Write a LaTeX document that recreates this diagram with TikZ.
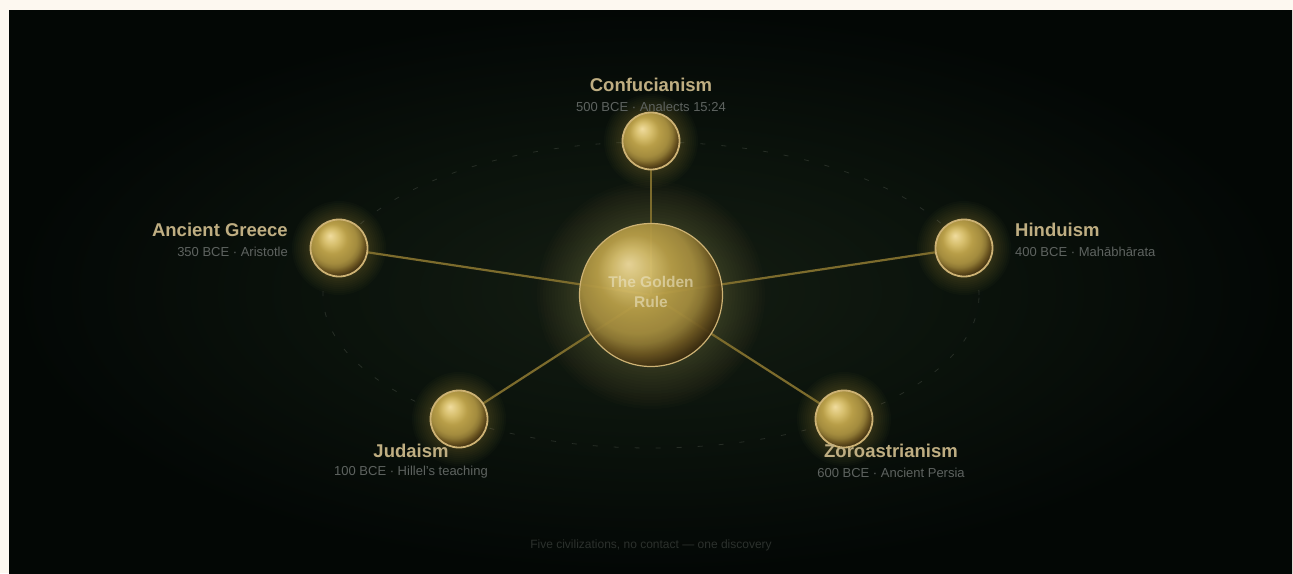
\documentclass[tikz,border=0pt]{standalone}
\usepackage{fontspec}
\setmainfont{Liberation Sans}
\usetikzlibrary{positioning}

\definecolor{paper}{HTML}{FDF8F0}
\definecolor{bgin}{HTML}{141D12}
\definecolor{bgmid}{HTML}{0B130C}
\definecolor{bgout}{HTML}{030705}
\definecolor{goldhi}{HTML}{F0DC9E}
\definecolor{goldlite}{HTML}{D6BE6C}
\definecolor{goldmid}{HTML}{B89E48}
\definecolor{goldside}{HTML}{A48C3E}
\definecolor{goldshade}{HTML}{8E7834}
\definecolor{goldlow}{HTML}{6A5420}
\definecolor{golddark}{HTML}{3E2E10}
\definecolor{golddeep}{HTML}{2A1F08}
\definecolor{goldring}{HTML}{CDB274}
\definecolor{glowgold}{HTML}{D8C060}
\definecolor{spokegold}{HTML}{7C6B2C}
\definecolor{orbitgrey}{HTML}{272E26}
\definecolor{titlegold}{HTML}{BFAE82}
\definecolor{subgrey}{HTML}{5E6360}
\definecolor{footgrey}{HTML}{2C312D}
\definecolor{corecream}{HTML}{ECE4C4}

\pgfdeclareradialshading{goldball}{\pgfpoint{-8bp}{11bp}}{color(0bp)=(goldhi); color(7bp)=(goldlite); color(13bp)=(goldmid); color(20bp)=(goldside); color(23bp)=(goldshade); color(26bp)=(goldlow); color(29.5bp)=(golddark); color(31.5bp)=(golddeep); color(50bp)=(golddeep)}
\pgfdeclareradialshading{bgglow}{\pgfpointorigin}{color(0bp)=(bgin); color(12bp)=(bgmid); color(25bp)=(bgout); color(50bp)=(bgout)}

\pgfdeclarelayer{back}
\pgfdeclarelayer{mid}
\pgfsetlayers{back,mid,main}

\begin{document}
\begin{tikzpicture}[x=1pt,y=-1pt,
    ball/.style={circle, inner sep=0pt, shade, shading=goldball, draw=goldring, line width=1.8pt},
    title/.style={font=\fontsize{18.5}{22}\selectfont\bfseries, text=titlegold, inner sep=0pt},
    sub/.style={font=\fontsize{13}{15}\selectfont, text=subgrey, inner sep=0pt},
    spoke/.style={draw=spokegold, line width=2.2pt},
    halo/.style={fill=glowgold, opacity=0.022}]
    \useasboundingbox (0,0) rectangle (1293,573);

    % Core and the five traditions
    \node[ball, minimum size=143pt, line width=1.2pt, fill opacity=0.94,
          label={[text=corecream, text opacity=0.6, align=center, yshift=3pt,
                  font=\fontsize{15.5}{20}\selectfont\bfseries]center:The Golden\\Rule}] (core) at (651,295) {};
    \node[ball, minimum size=57pt] (conf) at (651,141) {};
    \node[ball, minimum size=57pt] (greece) at (339,248) {};
    \node[ball, minimum size=57pt] (hindu) at (964,248) {};
    \node[ball, minimum size=57pt] (juda) at (459,419) {};
    \node[ball, minimum size=57pt] (zoro) at (844,419) {};

    % Background, orbit and glows
    \begin{pgfonlayer}{back}
        \fill[paper] (0,0) rectangle (1293,573);
        \shade[shading=bgglow] (9,10) rectangle (1292,573);
        \draw[orbitgrey, line width=0.8pt, dash pattern=on 5pt off 16pt] (core.center) ellipse [x radius=328pt, y radius=153pt];
        \foreach \r in {72,75,...,114}
            \fill[halo, opacity=0.016] (core.center) circle [radius=\r pt];
        \foreach \n in {conf,greece,hindu,juda,zoro}
            \foreach \r in {29,31,...,47}
                \fill[halo] (\n.center) circle [radius=\r pt];
    \end{pgfonlayer}

    % Spokes
    \begin{pgfonlayer}{mid}
        \foreach \n in {conf,greece,hindu,juda,zoro}
            \draw[spoke] (core.center) -- (\n.center);
    \end{pgfonlayer}

    % Labels
    \node[title] (conf-t) at (651,85) {Confucianism};
    \node[sub] (conf-s) at (651,106.5) {500 BCE · Analects 15:24};
    \node[title, anchor=east] (greece-t) at (288,230) {Ancient Greece};
    \node[sub, anchor=east] (greece-s) at (288,251.5) {350 BCE · Aristotle};
    \node[title, anchor=west] (hindu-t) at (1015,230) {Hinduism};
    \node[sub, anchor=west] (hindu-s) at (1015,251.5) {400 BCE · Mahābhārata};
    \node[title] (juda-t) at (411,451) {Judaism};
    \node[sub] (juda-s) at (411,472.5) {100 BCE · Hillel's teaching};
    \node[title] (zoro-t) at (891,451) {Zoroastrianism};
    \node[sub] (zoro-s) at (891,472.5) {600 BCE · Ancient Persia};

    \node[font=\fontsize{12}{14}\selectfont, text=footgrey] (foot) at (651,545) {Five civilizations, no contact — one discovery};
\end{tikzpicture}
\end{document}
